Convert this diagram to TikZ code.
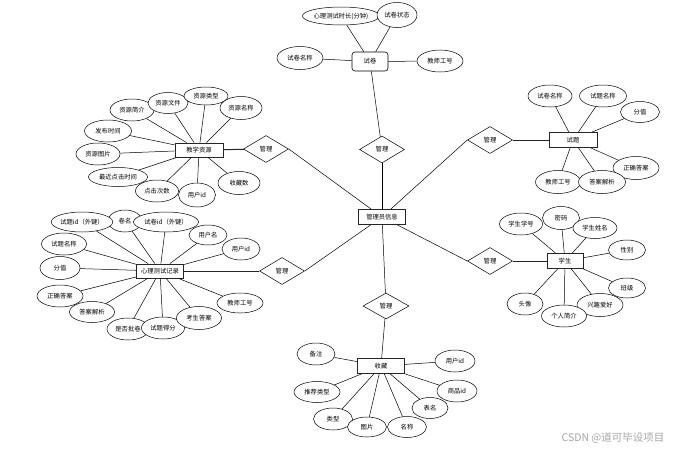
\documentclass[tikz,border=0pt]{standalone}
\usepackage{fontspec}
\usetikzlibrary{positioning, shapes.geometric}
\newfontfamily\cjk{Noto Sans CJK SC}

\begin{document}
\begin{tikzpicture}[
    x=1pt, y=-1pt,
    every node/.style={font=\cjk\fontsize{6.3}{7}\selectfont},
    entity/.style={draw=black!85, line width=0.9pt, fill=white, minimum width=47pt, minimum height=15pt, inner sep=1pt},
    attr/.style={ellipse, draw, line width=0.5pt, fill=white, minimum width=44pt, minimum height=22pt, inner sep=0pt},
    rel/.style={diamond, draw, line width=0.5pt, fill=white, aspect=1.7, minimum width=45pt, minimum height=27pt, inner sep=0pt},
    link/.style={line width=0.5pt},
    tlink/.style={line width=1pt, black!85},
]
\useasboundingbox (0,0) rectangle (679,453);

% ===== 中心: 管理员信息 =====
\node[entity] (admin) at (382,217) {管理员信息};

% ===== 试卷 =====
\node[draw, line width=0.6pt, rounded corners=3pt, fill=white, minimum width=36pt, minimum height=19pt] (paper) at (370,61.5) {试卷};
\node[attr, minimum width=77pt, minimum height=18pt] (pduration) at (341,16) {心理测试时长(分钟)};
\node[attr, minimum width=40pt, minimum height=25pt] (pstate) at (397,15) {试卷状态};
\node[attr, minimum width=46pt, minimum height=23pt] (pname) at (300,58) {试卷名称};
\node[attr, minimum width=46pt] (pteacher) at (440,61) {教师工号};
\node[rel] (r1) at (382,149.5) {管理};

\draw[link] (pduration) -- (paper);
\draw[link] (pstate) -- (paper);
\draw[link] (pname) -- (paper);
\draw[link] (pteacher) -- (paper);
\draw[link] (paper) -- (r1);
\draw[link] (r1) -- (admin);

% ===== 教学资源 =====
\node[entity, minimum width=48pt, minimum height=14pt] (res) at (199,150) {教学资源};
\node[attr] (rintro) at (132,110) {资源简介};
\node[attr, minimum width=40pt, minimum height=21pt] (rfile) at (168,103) {资源文件};
\node[attr, minimum height=18pt] (rtype) at (206,96) {资源类型};
\node[attr, minimum width=42pt, minimum height=23pt] (rname) at (241,108) {资源名称};
\node[attr, minimum width=47pt] (rtime) at (108,131) {发布时间};
\node[attr] (rpic) at (98,154) {资源图片};
\node[attr, minimum width=59pt, minimum height=19pt] (rlast) at (118,177) {最近点击时间};
\node[attr, minimum width=43pt] (rclick) at (157,191) {点击次数};
\node[attr, minimum width=37pt, minimum height=24pt] (ruser) at (197,195) {用户id};
\node[attr, minimum width=42pt, minimum height=23pt] (rfav) at (239,183) {收藏数};
\node[rel] (r2) at (266,149) {管理};

\foreach \a in {rintro, rfile, rtype, rname, rtime, rpic, rlast, rclick, ruser, rfav}
    \draw[link] (\a) -- (res);
\draw[tlink] (res) -- (r2);
\draw[link] (r2.east) -- (admin);

% ===== 心理测试记录 =====
\node[entity, minimum height=14pt] (rec) at (160,271) {心理测试记录};
\node[attr, minimum width=34pt] (tpname) at (125,221) {卷名};
\node[attr, minimum width=60pt, minimum height=20pt] (tqid) at (82,222) {试题id（外键）};
\node[attr, minimum width=65pt, minimum height=20pt] (tpid) at (166,222) {试卷id（外键）};
\node[attr, minimum width=38pt, minimum height=20pt] (tuname) at (208,235) {用户名};
\node[attr, minimum width=38pt] (tuid) at (241,249) {用户id};
\node[attr, minimum width=45pt] (tqname) at (64,244) {试题名称};
\node[attr, minimum width=40pt, minimum height=23pt] (tscore) at (60,268) {分值};
\node[attr, minimum width=46pt] (tanswer) at (60,296) {正确答案};
\node[attr, minimum width=45pt, minimum height=21pt] (tparse) at (92,312) {答案解析};
\node[attr, minimum width=42pt] (tchecked) at (128,329) {是否批卷};
\node[attr, minimum width=43pt] (tgot) at (163,328) {试题得分};
\node[attr, minimum width=45pt, minimum height=23pt] (tstu) at (199,318) {考生答案};
\node[attr, minimum width=46pt, minimum height=20pt] (tteacher) at (240,303) {教师工号};
\node[rel] (r3) at (282,271) {管理};

\foreach \a in {tpname, tqid, tpid, tuname, tuid, tqname, tscore, tanswer, tparse, tchecked, tgot, tstu, tteacher}
    \draw[link] (\a) -- (rec);
\draw[tlink] (rec) -- (r3);
\draw[link] (r3.east) -- (admin);

% ===== 试题 =====
\node[entity, minimum width=48pt] (ques) at (573,140) {试题};
\node[attr] (qpname) at (550,96) {试卷名称};
\node[attr, minimum width=47pt] (qname) at (603,96) {试题名称};
\node[attr, minimum width=39pt, minimum height=21pt] (qscore) at (640,112) {分值};
\node[attr, minimum width=46pt, minimum height=23pt] (qanswer) at (636,168) {正确答案};
\node[attr, minimum width=45pt, minimum height=23pt] (qteacher) at (558,182) {教师工号};
\node[attr, minimum width=47pt, minimum height=23pt] (qparse) at (602,182) {答案解析};
\node[rel] (r4) at (490,140) {管理};

\foreach \a in {qpname, qname, qscore, qanswer, qteacher, qparse}
    \draw[link] (\a) -- (ques);
\draw[tlink] (ques) -- (r4);
\draw[link] (r4.west) -- (admin);

% ===== 学生 =====
\node[entity, minimum width=36pt] (stu) at (565,261) {学生};
\node[attr, minimum width=43pt] (sno) at (521,224) {学生学号};
\node[attr, minimum width=37pt, minimum height=23pt] (spwd) at (561,218) {密码};
\node[attr, minimum height=21pt] (sname) at (595,228) {学生姓名};
\node[attr, minimum width=37pt, minimum height=20pt] (ssex) at (627,250) {性别};
\node[attr, minimum width=37pt, minimum height=20pt] (sclass) at (627,288) {班级};
\node[attr, minimum width=46pt, minimum height=23pt] (shobby) at (600,305) {兴趣爱好};
\node[attr, minimum width=36pt] (savatar) at (525,304) {头像};
\node[attr, minimum width=45pt] (sintro) at (564,316) {个人简介};
\node[rel] (r5) at (490,261) {管理};

\foreach \a in {sno, spwd, sname, ssex, sclass, shobby, savatar, sintro}
    \draw[link] (\a) -- (stu);
\draw[tlink] (stu) -- (r5);
\draw[link] (r5.west) -- (admin);

% ===== 收藏 =====
\node[entity] (fav) at (381,366) {收藏};
\node[attr, minimum width=38pt] (fnote) at (316,354) {备注};
\node[attr, minimum width=46pt, minimum height=21pt] (frec) at (317,392) {推荐类型};
\node[attr, minimum width=39pt] (ftype) at (333,419) {类型};
\node[attr, minimum width=39pt, minimum height=20pt] (fpic) at (367,427) {图片};
\node[attr, minimum width=39pt, minimum height=21pt] (fname) at (407,427) {名称};
\node[attr, minimum width=36pt, minimum height=21pt] (ftable) at (430,408) {表名};
\node[attr, minimum width=40pt] (fgoods) at (457,391) {商品id};
\node[attr, minimum width=40pt] (fuser) at (455,361) {用户id};
\node[rel, minimum width=46pt, minimum height=26pt] (r6) at (386,306) {管理};

\foreach \a in {fnote, frec, ftype, fpic, fname, ftable, fgoods, fuser}
    \draw[link] (\a) -- (fav);
\draw[link] (fav) -- (r6);
\draw[link] (r6) -- (admin);

% ===== 水印 =====
\node[text=black!35, font=\cjk\fontsize{10.5}{12}\selectfont] (mark) at (613,438) {CSDN @道可毕设项目};

\end{tikzpicture}
\end{document}
